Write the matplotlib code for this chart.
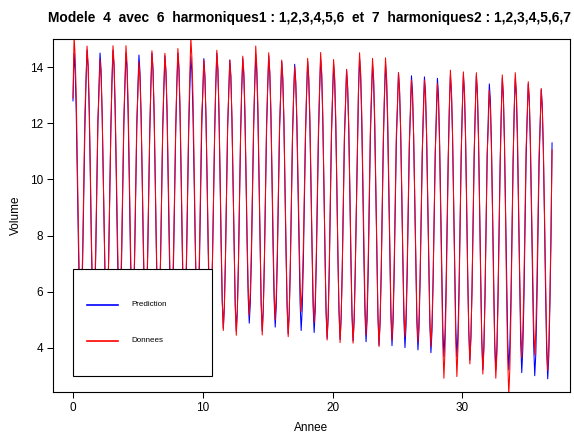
import matplotlib
matplotlib.use("Agg")
import matplotlib.pyplot as plt
from matplotlib.lines import Line2D
from matplotlib.patches import Rectangle
import numpy as np

plt.rcParams['font.family'] = ['Liberation Sans', 'DejaVu Sans']

titre = "Modele  4  avec  6  harmoniques1 : 1,2,3,4,5,6  et  7  harmoniques2 : 1,2,3,4,5,6,7"
debut = 0          # first year on the axis
frequence = 12     # monthly series

# Prediction (blue), one line per year, Jan..Dec
prediction = [
    12.8, 14.5, 13.9, 12.4, 10.1, 7.7, 5.8, 4.8, 5.6, 7.2, 9.5, 11.8,
    13.4, 14.6, 14.0, 12.4, 10.2, 7.7, 5.8, 4.8, 5.6, 7.2, 9.5, 11.9,
    13.3, 14.5, 13.9, 12.3, 10.1, 7.7, 5.7, 4.75, 5.5, 7.2, 9.4, 11.8,
    13.4, 14.6, 14.0, 12.4, 10.2, 7.7, 5.8, 4.8, 5.6, 7.2, 9.5, 11.9,
    13.3, 14.5, 13.9, 12.3, 10.1, 7.6, 5.7, 4.7, 5.5, 7.2, 9.4, 11.8,
    13.3, 14.43, 13.8, 12.3, 10.1, 7.6, 5.7, 4.7, 5.5, 7.1, 9.4, 11.7,
    13.3, 14.5, 13.9, 12.3, 10.1, 7.6, 5.7, 4.7, 5.5, 7.2, 9.4, 11.8,
    13.2, 14.4, 13.8, 12.3, 10.0, 7.6, 5.7, 4.7, 5.5, 7.1, 9.4, 11.7,
    13.3, 14.5, 13.9, 12.3, 10.1, 7.6, 5.6, 4.65, 5.4, 7.1, 9.4, 11.7,
    13.2, 14.37, 13.8, 12.2, 10.0, 7.6, 5.7, 4.7, 5.5, 7.1, 9.3, 11.7,
    13.1, 14.3, 13.7, 12.2, 10.0, 7.5, 5.6, 4.65, 5.4, 7.1, 9.3, 11.6,
    13.3, 14.5, 13.9, 12.3, 10.1, 7.6, 5.7, 4.7, 5.5, 7.2, 9.4, 11.8,
    13.1, 14.25, 13.7, 12.1, 9.9, 7.5, 5.6, 4.6, 5.4, 7.0, 9.2, 11.6,
    13.2, 14.3, 13.7, 12.2, 10.1, 7.7, 5.8, 4.88, 5.6, 7.2, 9.4, 11.7,
    13.3, 14.43, 13.8, 12.3, 10.0, 7.5, 5.6, 4.6, 5.4, 7.1, 9.3, 11.7,
    13.2, 14.4, 13.8, 12.3, 10.1, 7.6, 5.7, 4.74, 5.5, 7.2, 9.4, 11.7,
    13.0, 14.2, 13.6, 12.1, 9.8, 7.4, 5.5, 4.5, 5.3, 6.9, 9.2, 11.5,
    13.0, 14.1, 13.5, 12.0, 9.8, 7.5, 5.6, 4.62, 5.4, 7.0, 9.2, 11.5,
    13.0, 14.2, 13.6, 12.1, 9.9, 7.5, 5.5, 4.55, 5.3, 7.0, 9.2, 11.5,
    13.1, 14.3, 13.7, 12.1, 9.8, 7.3, 5.3, 4.35, 5.1, 6.8, 9.1, 11.5,
    12.9, 14.1, 13.5, 11.9, 9.7, 7.2, 5.3, 4.3, 5.1, 6.8, 9.0, 11.4,
    12.7, 13.9, 13.3, 11.8, 9.6, 7.1, 5.2, 4.25, 5.0, 6.7, 8.9, 11.2,
    13.1, 14.3, 13.7, 12.1, 9.8, 7.2, 5.2, 4.22, 5.0, 6.7, 9.1, 11.5,
    12.9, 14.1, 13.5, 11.9, 9.6, 7.1, 5.1, 4.1, 4.9, 6.6, 8.9, 11.3,
    12.9, 14.1, 13.5, 11.9, 9.6, 7.1, 5.1, 4.08, 4.9, 6.6, 8.9, 11.3,
    12.6, 13.8, 13.2, 11.7, 9.4, 6.9, 5.0, 4.01, 4.8, 6.5, 8.7, 11.1,
    12.5, 13.69, 13.1, 11.5, 9.3, 6.9, 4.9, 3.93, 4.7, 6.4, 8.6, 10.9,
    12.5, 13.65, 13.1, 11.5, 9.2, 6.8, 4.8, 3.83, 4.6, 6.3, 8.5, 10.9,
    12.4, 13.6, 13.0, 11.4, 9.1, 6.7, 4.7, 3.69, 4.5, 6.2, 8.4, 10.8,
    12.5, 13.7, 13.1, 11.5, 9.2, 6.7, 4.7, 3.69, 4.5, 6.2, 8.5, 10.9,
    12.5, 13.7, 13.1, 11.5, 9.1, 6.6, 4.6, 3.57, 4.4, 6.1, 8.4, 10.8,
    12.5, 13.7, 13.1, 11.4, 9.0, 6.4, 4.3, 3.22, 4.1, 5.8, 8.3, 10.8,
    12.2, 13.4, 12.8, 11.2, 8.8, 6.3, 4.2, 3.22, 4.0, 5.8, 8.1, 10.6,
    12.4, 13.6, 13.0, 11.3, 8.9, 6.3, 4.3, 3.22, 4.1, 5.8, 8.2, 10.7,
    12.4, 13.6, 13.0, 11.3, 8.9, 6.3, 4.2, 3.12, 4.0, 5.7, 8.2, 10.7,
    12.2, 13.4, 12.8, 11.1, 8.7, 6.1, 4.1, 3.01, 3.8, 5.6, 8.0, 10.5,
    12.0, 13.2, 12.6, 10.9, 8.6, 6.0, 3.9, 2.9, 3.7, 5.5, 7.8, 11.3,
]

# Donnees (red), observed volume
donnees = [
    12.9, 15.1, 14.4, 13.0, 10.6, 8.1, 6.0, 4.9, 5.8, 7.6, 9.9, 12.3,
    13.5, 14.75, 14.1, 12.7, 10.5, 8.0, 6.1, 5.0, 5.9, 7.5, 9.8, 12.1,
    13.0, 14.27, 13.6, 12.3, 10.1, 7.7, 5.8, 4.7, 5.6, 7.2, 9.4, 11.7,
    13.5, 14.76, 14.1, 12.7, 10.5, 8.1, 6.2, 5.1, 6.0, 7.6, 9.8, 12.1,
    13.5, 14.76, 14.1, 12.7, 10.4, 7.9, 5.9, 4.8, 5.7, 7.4, 9.7, 12.1,
    13.0, 14.19, 13.5, 12.2, 10.1, 7.8, 5.9, 4.9, 5.7, 7.3, 9.5, 11.7,
    13.3, 14.58, 13.9, 12.5, 10.2, 7.7, 5.7, 4.6, 5.5, 7.2, 9.5, 11.9,
    13.3, 14.49, 13.8, 12.5, 10.3, 7.9, 6.0, 5.0, 5.9, 7.5, 9.7, 11.9,
    13.4, 14.66, 14.0, 12.6, 10.3, 7.8, 5.8, 4.7, 5.6, 7.3, 9.6, 12.0,
    13.7, 15.05, 14.3, 12.9, 10.6, 8.0, 6.0, 4.9, 5.8, 7.5, 9.9, 12.3,
    13.0, 14.25, 13.6, 12.2, 10.0, 7.7, 5.8, 4.7, 5.6, 7.2, 9.4, 11.7,
    13.3, 14.6, 13.9, 12.5, 10.2, 7.7, 5.7, 4.62, 5.5, 7.2, 9.5, 11.9,
    13.0, 14.25, 13.6, 12.2, 9.9, 7.5, 5.5, 4.45, 5.3, 7.0, 9.3, 11.6,
    13.2, 14.39, 13.8, 12.5, 10.3, 8.0, 6.2, 5.17, 6.0, 7.6, 9.7, 11.9,
    13.4, 14.75, 14.0, 12.6, 10.2, 7.7, 5.6, 4.46, 5.4, 7.1, 9.5, 12.0,
    13.3, 14.51, 13.8, 12.5, 10.3, 7.9, 6.0, 5.0, 5.9, 7.5, 9.7, 11.9,
    13.0, 14.25, 13.6, 12.2, 9.9, 7.5, 5.5, 4.4, 5.3, 7.0, 9.2, 11.6,
    12.9, 14.01, 13.4, 12.2, 10.2, 8.0, 6.3, 5.3, 6.1, 7.6, 9.6, 11.7,
    13.1, 14.31, 13.6, 12.3, 10.2, 7.8, 5.9, 4.9, 5.7, 7.3, 9.5, 11.8,
    13.2, 14.52, 13.8, 12.3, 10.0, 7.4, 5.4, 4.28, 5.2, 6.9, 9.3, 11.7,
    13.0, 14.27, 13.6, 12.2, 9.8, 7.3, 5.3, 4.19, 5.1, 6.8, 9.1, 11.6,
    12.7, 13.92, 13.2, 11.9, 9.6, 7.2, 5.2, 4.17, 5.0, 6.7, 8.9, 11.3,
    13.2, 14.51, 13.8, 12.4, 10.1, 7.6, 5.6, 4.46, 5.4, 7.1, 9.4, 11.8,
    13.0, 14.31, 13.6, 12.2, 9.8, 7.2, 5.2, 4.05, 5.0, 6.7, 9.1, 11.5,
    13.0, 14.33, 13.6, 12.2, 9.9, 7.4, 5.4, 4.28, 5.2, 6.9, 9.2, 11.6,
    12.6, 13.8, 13.1, 11.8, 9.7, 7.3, 5.4, 4.4, 5.2, 6.8, 9.0, 11.3,
    12.3, 13.54, 12.9, 11.6, 9.4, 7.1, 5.2, 4.22, 5.1, 6.6, 8.8, 11.0,
    12.3, 13.54, 12.9, 11.6, 9.4, 7.0, 5.1, 4.05, 4.9, 6.5, 8.7, 11.0,
    12.1, 13.42, 12.7, 11.2, 8.8, 6.2, 4.1, 2.92, 3.9, 5.7, 8.1, 10.6,
    12.5, 13.89, 13.1, 11.6, 9.1, 6.4, 4.2, 2.98, 4.0, 5.8, 8.3, 10.9,
    12.5, 13.83, 13.1, 11.6, 9.3, 6.6, 4.6, 3.43, 4.4, 6.1, 8.5, 11.0,
    12.4, 13.8, 13.0, 11.5, 9.1, 6.4, 4.3, 3.07, 4.0, 5.9, 8.3, 10.9,
    11.8, 13.18, 12.5, 11.0, 8.7, 6.1, 4.0, 2.92, 3.8, 5.6, 7.9, 10.4,
    12.2, 13.72, 12.9, 11.3, 8.7, 5.8, 3.6, 2.3, 3.3, 5.3, 7.9, 10.6,
    12.5, 13.8, 13.1, 11.7, 9.3, 6.8, 4.8, 3.65, 4.6, 6.3, 8.6, 11.1,
    12.2, 13.48, 12.8, 11.4, 9.2, 6.8, 4.8, 3.75, 4.6, 6.3, 8.5, 10.9,
    11.9, 13.24, 12.5, 11.1, 8.8, 6.3, 4.3, 3.2, 4.1, 5.8, 8.1, 11.05,
]

temps = debut + np.arange(len(prediction)) / frequence

fig = plt.figure(figsize=(5.74, 4.34), dpi=100)
ax = fig.add_axes([53/574, 42/434, 517/574, 353/434])

ax.plot(temps, prediction, color='blue', lw=0.75)
ax.plot(temps, donnees, color='red', lw=0.75)

ax.set_xlim(-1.54, 38.3)
ax.set_ylim(2.43, 15.0)
ax.set_xticks([0, 10, 20, 30])
ax.set_yticks([4, 6, 8, 10, 12, 14])
ax.tick_params(direction='out', length=4, width=0.75, labelsize=8.5, pad=3)
for s in ax.spines.values():
    s.set_linewidth(0.8)
ax.set_xlabel('Annee', fontsize=8.5, labelpad=6)
ax.set_ylabel('Volume', fontsize=8.5, labelpad=6)

# title as in the R plot, slightly tightened so it stays inside the figure
fig.text(309.5/574, 1 - 18/434, titre, ha='center', va='center',
         fontsize=9.9, fontweight='bold')

# legend box (R style, bottom left)
ax.add_patch(Rectangle((0.0387, 0.0453), 0.2688, 0.3031, transform=ax.transAxes,
                       facecolor='white', edgecolor='black', lw=0.8, zorder=5))
for yy, col, lab in [(0.2465, 'blue', 'Prediction'), (0.1445, 'red', 'Donnees')]:
    ax.add_line(Line2D([0.0658, 0.1257], [yy, yy], transform=ax.transAxes,
                       color=col, lw=1.2, zorder=6))
    ax.text(0.1522, yy, lab, transform=ax.transAxes, fontsize=5.8,
            va='center', ha='left', zorder=6)

fig.savefig('out.png', dpi=100)
